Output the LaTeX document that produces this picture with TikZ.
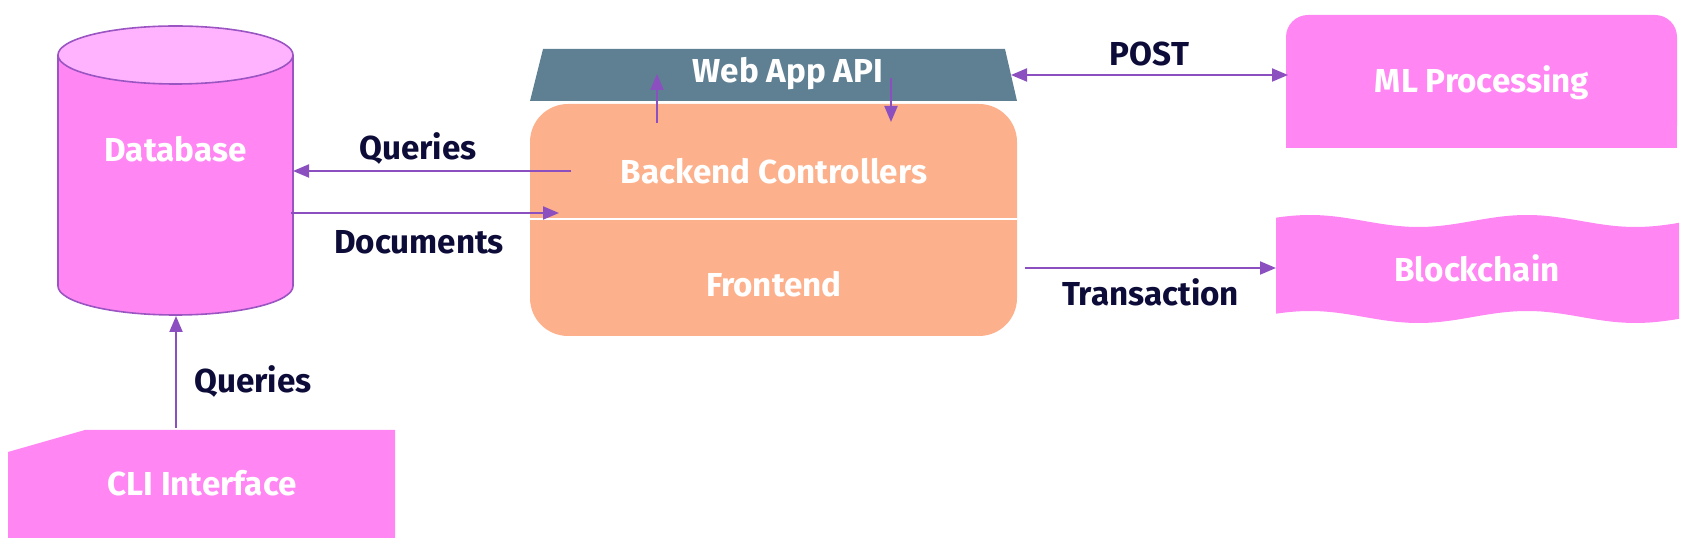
\documentclass[tikz,border=0pt]{standalone}
\usepackage{fontspec}
\setmainfont{Fira Sans}
\usetikzlibrary{arrows.meta}
\definecolor{pk}{HTML}{FF86F3}
\definecolor{pktop}{HTML}{FFB3FF}
\definecolor{cylline}{HTML}{9B55C2}
\definecolor{arrc}{HTML}{8B4FBF}
\definecolor{api}{HTML}{5F7F93}
\definecolor{org}{HTML}{FCB18C}
\definecolor{navy}{HTML}{0D0B38}
\begin{document}
\begin{tikzpicture}[x=0.5pt,y=-0.5pt,
  nodetxt/.style={font=\bfseries\fontsize{16.6}{19}\selectfont, text=white, inner sep=0pt},
  lbl/.style={font=\bfseries\fontsize{16.6}{19}\selectfont, text=navy, inner sep=0pt},
  arr/.style={draw=arrc, line width=1pt, -{Triangle[length=8pt,width=6.5pt]}},
  darr/.style={draw=arrc, line width=1pt, {Triangle[length=8pt,width=6.5pt]}-{Triangle[length=8pt,width=6.5pt]}}]
\useasboundingbox (0,0) rectangle (1694,550);

% Database cylinder
\fill[pk] (58,55) -- (58,286) arc[start angle=180, end angle=0, x radius=117.5, y radius=29] -- (293,55) -- cycle;
\draw[cylline, line width=0.8pt] (58,55) -- (58,286) arc[start angle=180, end angle=0, x radius=117.5, y radius=29] -- (293,55);
\draw[cylline, line width=0.8pt, fill=pktop] (175.5,55) ellipse[x radius=117.5, y radius=29];
\node[nodetxt] (db) at (175.5,149) {Database};
\coordinate (dbE1) at (293,171);
\coordinate (dbE2) at (291,213);
\coordinate (dbB) at (176,316);

% CLI
\fill[pk] (85,430) -- (395,430) -- (395,538) -- (8,538) -- (8,452) -- cycle;
\node[nodetxt] (cli) at (202,483) {CLI Interface};
\coordinate (cliT) at (176,428);

% Web App API
\fill[api] (543,49) -- (1005,49) -- (1017,101) -- (530,101) -- cycle;
\node[nodetxt] (api) at (788,74) {Web App API};

% Backend / Frontend
\fill[org, rounded corners=19pt] (530,104) rectangle (1017,336);
\draw[white, line width=1pt] (530,219) -- (1017,219);
\node[nodetxt] (be) at (774,171) {Backend Controllers};
\node[nodetxt] (fe) at (774,284) {Frontend};
\coordinate (beW1) at (571,171);
\coordinate (beW2) at (559,213);
\coordinate (upS) at (657,123);
\coordinate (upE) at (657,74);
\coordinate (dnS) at (891,78);
\coordinate (dnE) at (891,122);
\coordinate (apiE) at (1011,75);
\coordinate (feE) at (1025,268);

% ML Processing
\fill[pk, rounded corners=11pt] (1286,15) rectangle (1677,148);
\fill[pk] (1286,80) rectangle (1677,148);
\node[nodetxt] (ml) at (1482,83) {ML Processing};
\coordinate (mlW) at (1288,75);

% Blockchain
\fill[pk] plot[domain=1276:1679, samples=80] (\x,{221-6*cos(1.659*(\x-1310))})
  -- plot[domain=1679:1276, samples=80] (\x,{317-6*cos(1.659*(\x-1310))}) -- cycle;
\node[nodetxt] (bc) at (1477,268) {Blockchain};
\coordinate (bcW) at (1276,268);

% connectors
\draw[arr] (beW1) -- node[lbl, above=3pt, xshift=-7pt] (lq) {Queries} (dbE1);
\draw[arr] (dbE2) -- node[lbl, below=8pt, xshift=-3pt] (ld) {Documents} (beW2);
\draw[arr] (cliT) -- (dbB);
\node[lbl] (lq2) at (253,381) {Queries};
\draw[arr] (upS) -- (upE);
\draw[arr] (dnS) -- (dnE);
\draw[darr] (apiE) -- node[lbl, above=4pt] (lp) {POST} (mlW);
\draw[arr] (feE) -- node[lbl, below=5pt] (lt) {Transaction} (bcW);
\end{tikzpicture}
\end{document}
